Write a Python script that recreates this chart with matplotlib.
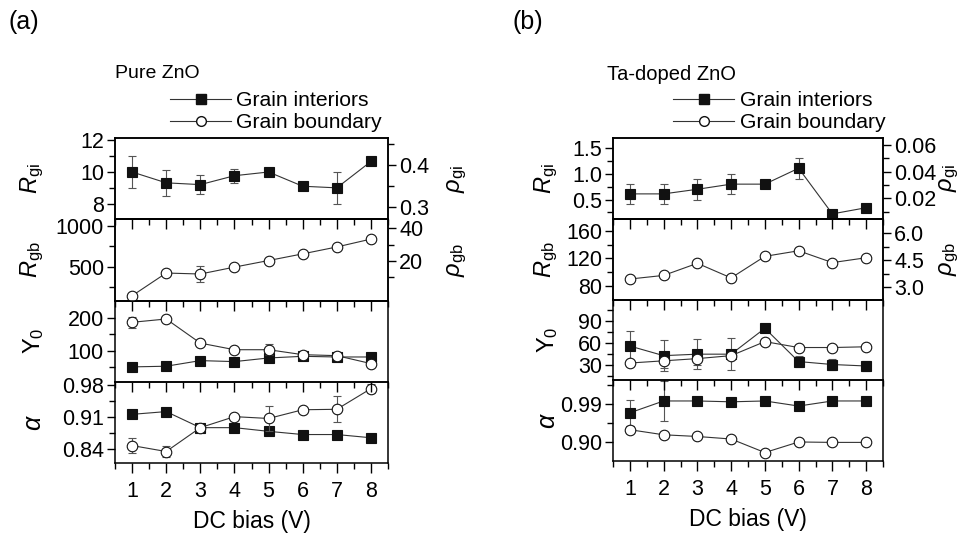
import matplotlib
matplotlib.use("Agg")
import matplotlib.pyplot as plt
from matplotlib.ticker import MultipleLocator, FixedLocator, FormatStrFormatter
from matplotlib.lines import Line2D

plt.rcParams['font.family'] = ['Liberation Sans', 'DejaVu Sans']
plt.rcParams['mathtext.fontset'] = 'custom'
plt.rcParams['mathtext.rm'] = 'Liberation Sans'
plt.rcParams['mathtext.it'] = 'Liberation Sans:italic'

bias = [1, 2, 3, 4, 5, 6, 7, 8]

# ---- (a) Pure ZnO ----
a_rgi = [10.0, 9.33, 9.22, 9.77, 10.0, 9.12, 9.02, 10.65]
a_rgi_err = [1.0, 0.8, 0.6, 0.43, 0.0, 0.0, 1.0, 0.0]
a_rgb = [143, 423, 411, 496, 577, 659, 744, 841]
a_rgb_err = [15, 20, 100, 0, 0, 0, 0, 0]
a_y0_gi = [51, 53, 70, 67, 78, 83, 81, 81]
a_y0_gb = [186, 196, 123, 103, 103, 88, 85, 61]
a_y0_gb_err = [17, 9, 0, 5, 16, 0, 5, 0]
a_alpha_gi = [0.915, 0.921, 0.886, 0.886, 0.878, 0.871, 0.871, 0.864]
a_alpha_gb = [0.847, 0.834, 0.886, 0.910, 0.906, 0.925, 0.926, 0.971]
a_alpha_gb_err = [0.017, 0.011, 0.0, 0.0, 0.027, 0.0, 0.028, 0.01]

# ---- (b) Ta-doped ZnO ----
b_rgi = [0.61, 0.61, 0.70, 0.80, 0.80, 1.11, 0.22, 0.34]
b_rgi_err = [0.2, 0.2, 0.2, 0.2, 0.0, 0.2, 0.0, 0.0]
b_rgb = [90.4, 95.6, 113, 92, 123, 131, 114, 121]
b_rgb_err = [3, 3, 3, 3, 3, 4, 3, 3]
b_y0_gi = [56, 43, 45, 45, 80, 35, 31, 29]
b_y0_gi_err = [20, 21, 20, 22, 0, 8, 8, 7]
b_y0_gb = [33, 36, 39, 43, 62, 54, 54, 55]
b_y0_gb_err = [4, 10, 8, 4, 4, 3, 3, 3]
b_alpha_gi = [0.970, 0.998, 0.998, 0.996, 0.998, 0.986, 0.998, 0.998]
b_alpha_gi_err = [0.031, 0.047, 0.0, 0.0, 0.0, 0.0, 0.0, 0.0]
b_alpha_gb = [0.930, 0.918, 0.914, 0.908, 0.876, 0.901, 0.900, 0.900]
b_alpha_gb_err = [0.008, 0.006, 0.006, 0.006, 0.006, 0.006, 0.004, 0.004]

xticks = [1, 2, 3, 4, 5, 6, 7, 8]

FS = 15.5
LFS = 17
LC = '#333333'
EC = '#555555'

fig = plt.figure(figsize=(9.68, 5.36), dpi=100)


def series(ax, y, err, filled):
    kw = dict(marker='s' if filled else 'o', ms=7.5 if filled else 7.6,
              mfc='#111111' if filled else 'white', mec='#111111', mew=0.8,
              color=LC, lw=0.8, zorder=3)
    if err is not None:
        ax.errorbar(bias, y, yerr=err, ecolor=EC, elinewidth=0.8, capsize=3,
                    capthick=0.8, **kw)
    else:
        ax.plot(bias, y, **kw)


def style(ax, bottom, lx):
    ax.set_xlim(0.5, 8.5)
    ax.set_facecolor('none')
    for s in ax.spines.values():
        s.set_linewidth(1.1)
    ax.xaxis.set_major_locator(FixedLocator(xticks))
    ax.xaxis.set_minor_locator(MultipleLocator(0.5))
    ax.tick_params(axis='x', which='both', direction='out', top=False,
                   labelbottom=bottom, labelsize=FS, width=1.0, pad=6)
    ax.tick_params(axis='x', which='major', length=7)
    ax.tick_params(axis='x', which='minor', length=4)
    ax.tick_params(axis='y', which='both', direction='out', right=False,
                   labelsize=FS, width=1.0, pad=2)
    ax.tick_params(axis='y', which='major', length=6)
    ax.tick_params(axis='y', which='minor', length=4)
    ax.yaxis.set_label_coords(lx, 0.5)


def panel(left, width, bottom, top):
    h = (top - bottom) / 4
    axs = []
    for i in range(4):
        ax = fig.add_axes([left, top - (i + 1) * h, width, h])
        ax.set_zorder(10 - i)
        axs.append(ax)
    return axs


def twin(ax, lim, major, minor, label, rx, fmt=None):
    t = ax.twinx()
    t.set_ylim(*lim)
    t.yaxis.set_major_locator(FixedLocator(major))
    t.yaxis.set_minor_locator(FixedLocator(minor))
    t.tick_params(axis='y', which='both', direction='out', labelsize=FS, width=1.0, pad=2)
    t.tick_params(axis='y', which='major', length=6)
    t.tick_params(axis='y', which='minor', length=4)
    if fmt:
        t.yaxis.set_major_formatter(fmt)
    t.set_ylabel(label, fontsize=LFS)
    t.yaxis.set_label_coords(rx, 0.5)
    t.set_facecolor('none')
    for s in t.spines.values():
        s.set_linewidth(1.1)
    return t


# ---------- panel (a) ----------
A = panel(115 / 968, 273 / 968, 1 - 463 / 536, 1 - 138 / 536)
LXA, RXA = -0.253, 1.21
series(A[0], a_rgi, a_rgi_err, True)
A[0].set_ylim(7.08, 12.1)
A[0].yaxis.set_major_locator(MultipleLocator(2))
A[0].yaxis.set_minor_locator(MultipleLocator(1))
A[0].set_ylabel(r'$R_{\rm gi}$', fontsize=LFS)
twin(A[0], (0.270, 0.464), [0.3, 0.4], [0.35, 0.45], r'$\rho_{\rm gi}$', RXA,
     FormatStrFormatter('%.1f'))

series(A[1], a_rgb, a_rgb_err, False)
A[1].set_ylim(85, 1085)
A[1].yaxis.set_major_locator(FixedLocator([500, 1000]))
A[1].yaxis.set_minor_locator(FixedLocator([250, 750]))
A[1].set_ylabel(r'$R_{\rm gb}$', fontsize=LFS)
twin(A[1], (-4.2, 45.5), [20, 40], [10, 30], r'$\rho_{\rm gb}$', RXA)

series(A[2], a_y0_gi, None, True)
series(A[2], a_y0_gb, a_y0_gb_err, False)
A[2].set_ylim(6, 252)
A[2].yaxis.set_major_locator(FixedLocator([100, 200]))
A[2].yaxis.set_minor_locator(FixedLocator([50, 150]))
A[2].set_ylabel(r'${\rm Y}_{\rm 0}$', fontsize=LFS)

series(A[3], a_alpha_gi, None, True)
series(A[3], a_alpha_gb, a_alpha_gb_err, False)
A[3].set_ylim(0.809, 0.986)
A[3].yaxis.set_major_locator(FixedLocator([0.84, 0.91, 0.98]))
A[3].yaxis.set_minor_locator(FixedLocator([0.805, 0.875, 0.945]))
A[3].yaxis.set_major_formatter(FormatStrFormatter('%.2f'))
A[3].set_ylabel(r'$\alpha$', fontsize=LFS + 1)
A[3].set_xlabel('DC bias (V)', fontsize=FS + 1, labelpad=6)

for i, ax in enumerate(A):
    style(ax, i == 3, LXA)

# ---------- panel (b) ----------
B = panel(613 / 968, 270 / 968, 1 - 461 / 536, 1 - 138 / 536)
LXB, RXB = -0.196, 1.204
series(B[0], b_rgi, b_rgi_err, True)
B[0].set_ylim(0.125, 1.70)
B[0].yaxis.set_major_locator(MultipleLocator(0.5))
B[0].yaxis.set_minor_locator(MultipleLocator(0.25))
B[0].yaxis.set_major_formatter(FormatStrFormatter('%.1f'))
B[0].set_ylabel(r'$R_{\rm gi}$', fontsize=LFS)
twin(B[0], (0.0048, 0.0651), [0.02, 0.04, 0.06], [0.01, 0.03, 0.05], r'$\rho_{\rm gi}$', RXB,
     FormatStrFormatter('%.2f'))

series(B[1], b_rgb, b_rgb_err, False)
B[1].set_ylim(61, 177)
B[1].yaxis.set_major_locator(MultipleLocator(40))
B[1].yaxis.set_minor_locator(MultipleLocator(20))
B[1].set_ylabel(r'$R_{\rm gb}$', fontsize=LFS)
twin(B[1], (2.34, 6.78), [3.0, 4.5, 6.0], [3.75, 5.25], r'$\rho_{\rm gb}$', RXB,
     FormatStrFormatter('%.1f'))

series(B[2], b_y0_gi, b_y0_gi_err, True)
series(B[2], b_y0_gb, b_y0_gb_err, False)
B[2].set_ylim(9.7, 119)
B[2].yaxis.set_major_locator(FixedLocator([30, 60, 90]))
B[2].yaxis.set_minor_locator(FixedLocator([15, 45, 75, 105]))
B[2].set_ylabel(r'${\rm Y}_{\rm 0}$', fontsize=LFS)

series(B[3], b_alpha_gi, b_alpha_gi_err, True)
series(B[3], b_alpha_gb, b_alpha_gb_err, False)
B[3].set_ylim(0.856, 1.047)
B[3].yaxis.set_major_locator(FixedLocator([0.90, 0.99]))
B[3].yaxis.set_minor_locator(FixedLocator([0.855, 0.945, 1.035]))
B[3].yaxis.set_major_formatter(FormatStrFormatter('%.2f'))
B[3].set_ylabel(r'$\alpha$', fontsize=LFS + 1)
B[3].set_xlabel('DC bias (V)', fontsize=FS + 1, labelpad=6)

for i, ax in enumerate(B):
    style(ax, i == 3, LXB)

# ---------- texts & legends ----------
fig.text(8 / 968, 1 - 22 / 536, '(a)', fontsize=18, va='center', ha='left')
fig.text(513 / 968, 1 - 22 / 536, '(b)', fontsize=18, va='center', ha='left')
fig.text(115 / 968, 1 - 74 / 536, 'Pure ZnO', fontsize=14, va='center', ha='left')
fig.text(607 / 968, 1 - 74 / 536, 'Ta-doped ZnO', fontsize=14.5, va='center', ha='left')

handles = [Line2D([], [], color=LC, lw=0.8, marker='s', ms=6.5, mfc='#111111', mec='#111111'),
           Line2D([], [], color=LC, lw=0.8, marker='o', ms=7, mfc='white', mec='#111111')]
labels = ['Grain interiors', 'Grain boundary']
for x0 in (170 / 968, 673 / 968):
    fig.legend(handles, labels, loc='upper left', bbox_to_anchor=(x0, 1 - 91 / 536),
               frameon=False, fontsize=15.2, handlelength=2.9, handletextpad=0.25,
               labelspacing=0.15, borderpad=0, borderaxespad=0)

fig.savefig('out.png', dpi=100)
